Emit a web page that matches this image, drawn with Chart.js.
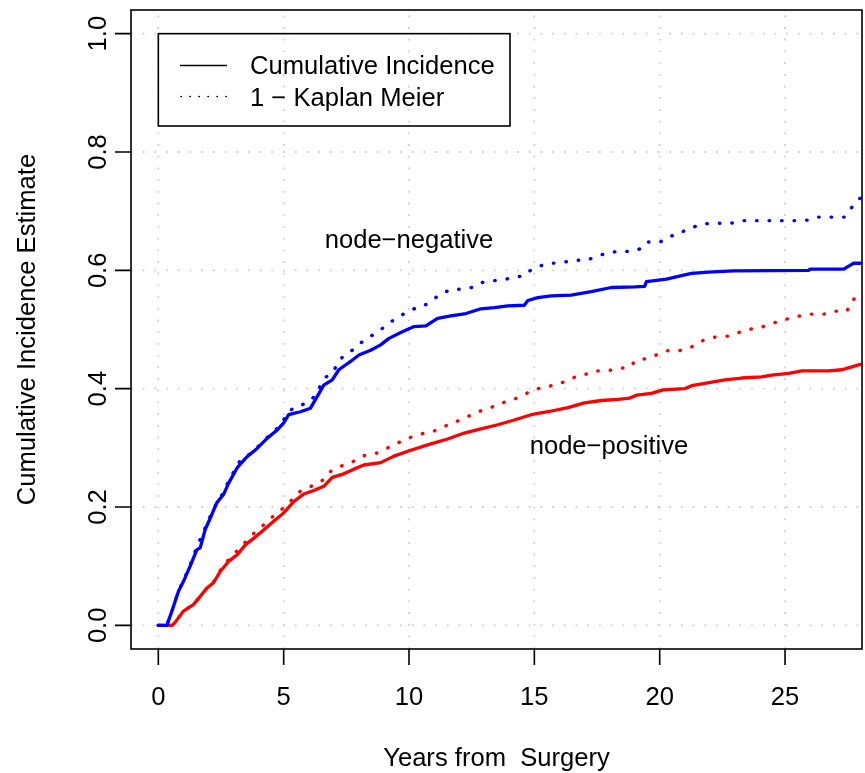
<!DOCTYPE html>
<html>
<head>
<meta charset="utf-8">
<title>Cumulative Incidence vs 1 − Kaplan Meier</title>
<script src="https://cdn.jsdelivr.net/npm/chart.js@4.4.0/dist/chart.umd.min.js"></script>
<style>
  html, body { margin: 0; padding: 0; background: #ffffff; }
  canvas { display: block; }
</style>
</head>
<body>
<canvas id="chart" width="865" height="773"></canvas>
<script>
// Node-negative: cumulative incidence (years, estimate)
const negCiYears = [0,0.34,0.55,0.8,1.0,1.27,1.54,1.67,1.87,2.07, 2.33,2.6,2.8,3.14,3.54,3.94,4.34,4.74,5.0,5.2, 5.67,6.07,6.34,6.6,6.94,7.2,7.67,8.0,8.47,8.87, 9.2,9.67,10.2,10.67,11.14,11.67,12.27,12.87,13.4,13.94, 14.6,14.74,15.14,15.67,16.47,17.27,18.07,19.0,19.4,19.47, 20.27,20.87,21.27,21.94,22.94,25.94,26.0,27.34,27.54,27.74, 28.0];
const negCiValues = [0,0,0.025,0.057,0.074,0.100,0.128,0.131,0.162,0.181, 0.207,0.221,0.240,0.266,0.285,0.299,0.316,0.330,0.342,0.356, 0.361,0.367,0.387,0.406,0.415,0.432,0.446,0.457,0.465,0.474, 0.485,0.495,0.505,0.506,0.519,0.523,0.527,0.535,0.537,0.540, 0.541,0.549,0.554,0.557,0.558,0.564,0.571,0.572,0.573,0.581, 0.585,0.591,0.595,0.597,0.599,0.600,0.602,0.602,0.607,0.612, 0.612];

// Node-negative: 1 - Kaplan Meier
const negKmYears = [0,0.34,0.55,0.8,1.0,1.27,1.54,1.87,2.07,2.36, 2.6,2.8,3.27,3.6,4.0,4.4,4.67,4.94,5.1,5.37, 5.74,6.1,6.3,6.5,6.7,7.0,7.17,7.4,7.74,8.0, 8.3,8.6,8.94,9.54,10.2,10.6,11.2,11.67,12.04,12.5, 12.87,13.27,13.76,14.16,14.6,14.9,15.27,15.74,16.2,16.6, 17.1,17.5,17.9,18.34,18.87,19.27,19.5,20.03,20.35,20.76, 21.1,21.5,21.9,22.94,23.36,25.4,25.94,26.34,27.36,27.6, 27.8,28.0];
const negKmValues = [0,0,0.025,0.058,0.075,0.102,0.133,0.165,0.184,0.209, 0.224,0.244,0.279,0.288,0.303,0.320,0.330,0.342,0.356,0.367, 0.373,0.380,0.393,0.407,0.420,0.430,0.445,0.456,0.465,0.475, 0.484,0.492,0.502,0.521,0.535,0.540,0.558,0.568,0.568,0.571, 0.579,0.582,0.584,0.588,0.591,0.602,0.608,0.612,0.614,0.617, 0.617,0.624,0.629,0.632,0.632,0.637,0.648,0.648,0.657,0.661, 0.670,0.675,0.679,0.680,0.684,0.684,0.685,0.690,0.690,0.702, 0.716,0.722];

// Node-positive: cumulative incidence
const posCiYears = [0,0.55,0.67,1.0,1.4,1.67,1.94,2.2,2.47,2.8, 3.14,3.47,3.8,4.2,4.6,5.0,5.4,5.8,6.2,6.6, 6.94,7.4,7.8,8.2,8.87,9.4,10.07,10.74,11.54,12.2, 12.87,13.54,14.2,14.87,15.54,16.34,17.0,17.67,18.34,18.8, 19.07,19.67,20.14,21.0,21.27,21.8,22.6,23.27,24.07,24.47, 25.14,25.67,26.74,27.27,27.6,28.0];
const posCiValues = [0,0,0.005,0.024,0.035,0.049,0.063,0.072,0.091,0.108, 0.119,0.136,0.147,0.161,0.176,0.190,0.209,0.222,0.228,0.235, 0.250,0.256,0.264,0.271,0.275,0.286,0.296,0.305,0.315,0.325, 0.332,0.339,0.347,0.356,0.361,0.368,0.376,0.380,0.382,0.384, 0.389,0.392,0.398,0.400,0.405,0.409,0.415,0.418,0.420,0.423, 0.426,0.430,0.430,0.432,0.436,0.441];

// Node-positive: 1 - Kaplan Meier
const posKmYears = [0,0.55,0.67,1.0,1.4,1.67,1.94,2.2,2.47,2.94, 3.2,3.67,4.0,4.27,4.54,4.8,5.1,5.34,5.6,5.94, 6.3,6.63,6.87,7.2,7.6,7.94,8.27,8.7,9.07,9.4, 9.77,10.14,10.54,10.97,11.34,11.67,12.07,12.4,12.77,13.16, 13.54,13.9,14.3,14.64,15.0,15.44,15.84,16.24,16.64,16.97, 17.36,17.9,18.34,18.8,19.04,19.5,19.87,20.24,20.76,21.18, 21.5,21.87,22.3,22.76,23.16,23.54,24.0,24.4,24.76,25.2, 25.6,26.04,26.56,26.96,27.47,27.63,27.9,28.0];
const posKmValues = [0,0,0.005,0.024,0.035,0.049,0.063,0.073,0.093,0.119, 0.128,0.150,0.163,0.172,0.183,0.192,0.202,0.213,0.225,0.232, 0.239,0.247,0.260,0.268,0.273,0.281,0.288,0.291,0.298,0.306, 0.312,0.319,0.324,0.328,0.334,0.342,0.347,0.354,0.361,0.367, 0.372,0.379,0.384,0.391,0.399,0.402,0.407,0.412,0.420,0.423, 0.430,0.430,0.434,0.436,0.448,0.451,0.457,0.464,0.464,0.468, 0.477,0.484,0.488,0.489,0.495,0.500,0.503,0.509,0.514,0.519, 0.523,0.526,0.526,0.531,0.531,0.547,0.557,0.560];

// Axis ticks and labels
const xTicks = [0, 5, 10, 15, 20, 25];
const xTickLabels = ['0', '5', '10', '15', '20', '25'];
const yTicks = [0, 0.2, 0.4, 0.6, 0.8, 1.0];
const yTickLabels = ['0.0', '0.2', '0.4', '0.6', '0.8', '1.0'];

const xTitle = 'Years from  Surgery';
const yTitle = 'Cumulative Incidence Estimate';
const legendLabels = ['Cumulative Incidence', '1 \u2212 Kaplan Meier'];
const groupLabels = ['node\u2212negative', 'node\u2212positive'];

const FONT = '25.6px "Liberation Sans", Arial, Helvetica, sans-serif';
const AXIS_LW = 1.6;

function toPoints(xs, ys) {
  return xs.map((x, i) => ({ x: x, y: ys[i] }));
}

const solidStyle = { borderWidth: 3.3, borderCapStyle: 'round', borderJoinStyle: 'round' };
const dottedStyle = { borderWidth: 3.4, borderCapStyle: 'round', borderJoinStyle: 'round', borderDash: [0.5, 12] };

// Dotted grid behind the curves, R-style frame, ticks, text and legend on top
const basePlot = {
  id: 'basePlot',
  beforeDatasetsDraw(chart) {
    const { ctx, chartArea: a, scales: { x, y } } = chart;
    ctx.save();
    ctx.strokeStyle = '#cfcfcf';
    ctx.lineWidth = 1.8;
    ctx.setLineDash([1.8, 9.9]);
    xTicks.forEach(v => {
      const px = x.getPixelForValue(v);
      ctx.beginPath(); ctx.moveTo(px, a.bottom); ctx.lineTo(px, a.top); ctx.stroke();
    });
    yTicks.forEach(v => {
      const py = y.getPixelForValue(v);
      ctx.beginPath(); ctx.moveTo(a.left, py); ctx.lineTo(a.right, py); ctx.stroke();
    });
    ctx.restore();
  },
  afterDraw(chart) {
    const { ctx, chartArea: a, scales: { x, y } } = chart;
    ctx.save();
    ctx.strokeStyle = '#000000';
    ctx.fillStyle = '#000000';
    ctx.lineWidth = AXIS_LW;
    ctx.setLineDash([]);
    ctx.lineCap = 'butt';

    // frame
    ctx.strokeRect(a.left, a.top, a.right - a.left, a.bottom - a.top);

    // ticks
    ctx.beginPath();
    xTicks.forEach(v => {
      const px = x.getPixelForValue(v);
      ctx.moveTo(px, a.bottom); ctx.lineTo(px, a.bottom + 16);
    });
    yTicks.forEach(v => {
      const py = y.getPixelForValue(v);
      ctx.moveTo(a.left, py); ctx.lineTo(a.left - 16, py);
    });
    ctx.stroke();

    ctx.font = FONT;
    ctx.textAlign = 'center';
    ctx.textBaseline = 'alphabetic';

    // x tick labels
    xTicks.forEach((v, i) => {
      ctx.fillText(xTickLabels[i], x.getPixelForValue(v), a.bottom + 56);
    });
    // y tick labels (parallel to the axis)
    yTicks.forEach((v, i) => {
      ctx.save();
      ctx.translate(a.left - 25, y.getPixelForValue(v));
      ctx.rotate(-Math.PI / 2);
      ctx.fillText(yTickLabels[i], 0, 0);
      ctx.restore();
    });

    // axis titles
    ctx.fillText(xTitle, (a.left + a.right) / 2, 766);
    ctx.save();
    ctx.translate(35, (a.top + a.bottom) / 2);
    ctx.rotate(-Math.PI / 2);
    ctx.fillText(yTitle, 0, 0);
    ctx.restore();

    // group labels
    ctx.fillText(groupLabels[0], 409, 248);
    ctx.fillText(groupLabels[1], 609, 454);

    // legend
    const lx = x.getPixelForValue(0);
    const ly = y.getPixelForValue(1.0);
    ctx.strokeRect(lx, ly, 510 - lx, 126 - ly);
    ctx.lineWidth = 1.6;
    ctx.beginPath(); ctx.moveTo(180, 65.5); ctx.lineTo(227, 65.5); ctx.stroke();
    ctx.lineCap = 'round';
    ctx.setLineDash([0.3, 8.7]);
    ctx.beginPath(); ctx.moveTo(181, 96.5); ctx.lineTo(227, 96.5); ctx.stroke();
    ctx.setLineDash([]);
    ctx.textAlign = 'left';
    ctx.fillText(legendLabels[0], 250, 74);
    ctx.fillText(legendLabels[1], 250, 106);

    ctx.restore();
  }
};

new Chart(document.getElementById('chart'), {
  type: 'line',
  data: {
    datasets: [
      Object.assign({ label: 'node-negative CI', data: toPoints(negCiYears, negCiValues), borderColor: '#0000ff' }, solidStyle),
      Object.assign({ label: 'node-negative 1-KM', data: toPoints(negKmYears, negKmValues), borderColor: '#0000ff' }, dottedStyle),
      Object.assign({ label: 'node-positive CI', data: toPoints(posCiYears, posCiValues), borderColor: '#ff0000' }, solidStyle),
      Object.assign({ label: 'node-positive 1-KM', data: toPoints(posKmYears, posKmValues), borderColor: '#ff0000' }, dottedStyle)
    ]
  },
  options: {
    responsive: false,
    animation: false,
    devicePixelRatio: 1,
    layout: { padding: { left: 131, top: 10, right: 3, bottom: 124 } },
    elements: {
      line: { stepped: false, tension: 0, fill: false },
      point: { radius: 0, hoverRadius: 0 }
    },
    scales: {
      x: { type: 'linear', min: -1.09, max: 28.07, display: false },
      y: { type: 'linear', min: -0.04, max: 1.04, display: false }
    },
    plugins: {
      legend: { display: false },
      tooltip: { enabled: false }
    },
    events: []
  },
  plugins: [basePlot]
});
</script>
</body>
</html>
